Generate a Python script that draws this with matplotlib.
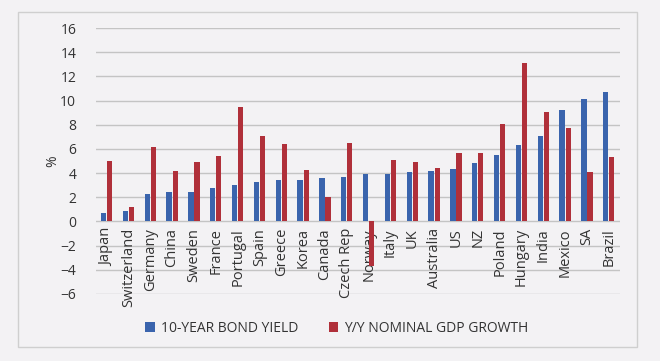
import matplotlib.pyplot as plt
import numpy as np
from matplotlib.patches import Rectangle

countries = ['Japan', 'Switzerland', 'Germany', 'China', 'Sweden', 'France', 'Portugal',
             'Spain', 'Greece', 'Korea', 'Canada', 'Czech Rep', 'Norway', 'Italy', 'UK',
             'Australia', 'US', 'NZ', 'Poland', 'Hungary', 'India', 'Mexico', 'SA', 'Brazil']
bond_yield = [0.7, 0.85, 2.3, 2.4, 2.4, 2.8, 3.0, 3.3, 3.4, 3.4, 3.6, 3.7, 3.9, 3.9, 4.05,
              4.15, 4.3, 4.8, 5.5, 6.35, 7.05, 9.25, 10.1, 10.7]
gdp_growth = [5.0, 1.2, 6.2, 4.15, 4.9, 5.4, 9.45, 7.1, 6.4, 4.25, 2.05, 6.45, -3.7, 5.1, 4.9,
              4.45, 5.7, 5.7, 8.1, 13.1, 9.05, 7.7, 4.1, 5.3]

bg = '#f3f2f4'
blue = '#3a64ad'
red = '#b0303a'
txt = '#333333'
plt.rcParams['font.family'] = ['Open Sans', 'DejaVu Sans']

fig = plt.figure(figsize=(6.6, 3.61), dpi=100, facecolor=bg)
ax = fig.add_axes([0.145, 0.186, 0.794, 0.736])
ax.set_facecolor(bg)

# chart frame
fig.patches.append(Rectangle((18 / 660, 1 - 347 / 361), 619 / 660, 335 / 361,
                             transform=fig.transFigure, fill=False,
                             edgecolor='#cfcfcf', linewidth=1.0))

x = np.arange(len(countries))
w = 0.24
ax.bar(x - w / 2 - 0.02, bond_yield, w, color=blue, label='10-YEAR BOND YIELD', zorder=3)
ax.bar(x + w / 2 + 0.02, gdp_growth, w, color=red, label='Y/Y NOMINAL GDP GROWTH', zorder=3)

ax.set_xlim(-0.5, len(countries) - 0.5)
ax.set_ylim(-6, 16)
ax.set_yticks(range(-6, 17, 2))
ax.yaxis.grid(True, color='#c4c4c4', linewidth=1.0, zorder=0)
ax.set_xticks([])
ax.tick_params(axis='y', length=0, pad=14, labelsize=10, labelcolor=txt)
for s in ax.spines.values():
    s.set_visible(False)

for i, name in enumerate(countries):
    ax.text(i, -0.55, name, rotation=90, ha='center', va='top', fontsize=10.5,
            color=txt, zorder=2)

ax.set_ylabel('%', fontsize=10, color=txt, labelpad=0)

ax.legend(loc='upper center', bbox_to_anchor=(0.46, -0.055), ncol=2, frameon=False,
          fontsize=10, handlelength=0.7, handleheight=0.7, columnspacing=2.2,
          handletextpad=0.4, labelcolor=txt)

fig.savefig('out.png', dpi=100, facecolor=bg)
